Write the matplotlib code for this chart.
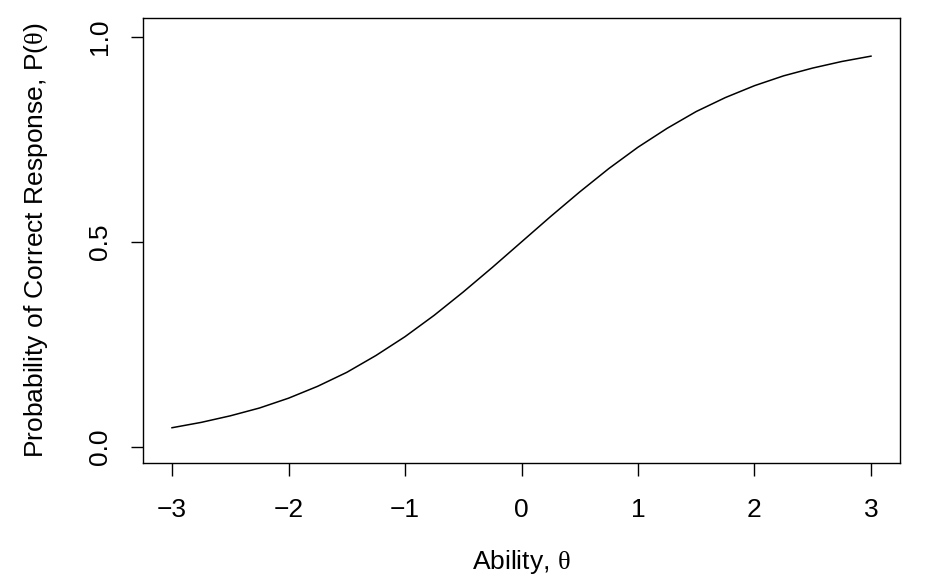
import matplotlib
matplotlib.use('Agg')
import matplotlib.pyplot as plt

plt.rcParams['font.family'] = ['Liberation Sans', 'DejaVu Sans']
plt.rcParams['mathtext.fontset'] = 'custom'
plt.rcParams['mathtext.rm'] = 'Liberation Serif'

# ability values and probability
theta = [-3, -2.75, -2.5, -2.25, -2, -1.75, -1.5, -1.25, -1, -0.75, -0.5, -0.25,
         0, 0.25, 0.5, 0.75, 1, 1.25, 1.5, 1.75, 2, 2.25, 2.5, 2.75, 3]
prob = [0.047, 0.060, 0.076, 0.095, 0.119, 0.148, 0.182, 0.223, 0.269, 0.321,
        0.378, 0.438, 0.5, 0.562, 0.622, 0.679, 0.731, 0.777, 0.818, 0.852,
        0.881, 0.905, 0.924, 0.940, 0.953]
xticks = [-3, -2, -1, 0, 1, 2, 3]
yticks = [0.0, 0.5, 1.0]

fig = plt.figure(figsize=(9.26, 5.77), dpi=100)
ax = fig.add_axes([143/926, 1 - 463/577, (900 - 143)/926, (463 - 18)/577])
ax.plot(theta, prob, color='black', lw=1.1)
ax.set_xlim(-3.249, 3.249)
ax.set_ylim(-0.039, 1.046)
ax.set_xticks(xticks)
ax.set_xticklabels([str(t).replace('-', '\u2212') for t in xticks])
ax.set_yticks(yticks)
ax.set_yticklabels(['%.1f' % v for v in yticks], rotation=90, va='center')
ax.tick_params(direction='out', length=9, width=1, labelsize=19)
ax.tick_params(axis='x', pad=16)
ax.tick_params(axis='y', pad=13)
for s in ax.spines.values():
    s.set_linewidth(1)
ax.set_xlabel(r'Ability, $\mathrm{\theta}$', fontsize=19, labelpad=19)
ax.set_ylabel(r'Probability of Correct Response, P($\mathrm{\theta}$)', fontsize=19, labelpad=28)
fig.savefig('out.png', dpi=100)
